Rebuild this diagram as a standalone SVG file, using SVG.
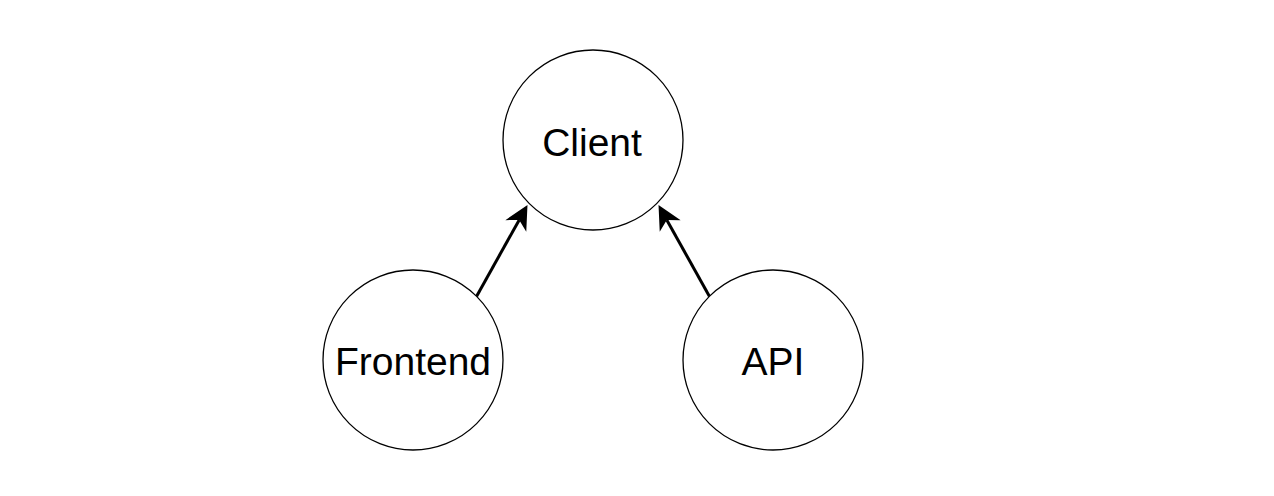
<svg xmlns="http://www.w3.org/2000/svg" width="1274" height="496" viewBox="0 0 1274 496">
<style>
.node circle{fill:#ffffff;stroke:#000000;stroke-width:1.3}
.node text{font-family:"Liberation Sans",Arial,Helvetica,sans-serif;font-size:39px;fill:#000000;text-anchor:middle}
.edge{fill:none;stroke:#000000;stroke-width:3}
</style>
<defs>
<marker id="arrow" markerUnits="userSpaceOnUse" viewBox="-25 -13 26 26" markerWidth="26" markerHeight="26" refX="-17" refY="0" orient="auto">
<path d="M0,0 L-24,-12 L-17,0 L-24,12 Z" fill="#000000" stroke="none"/>
</marker>
</defs>
<rect x="0" y="0" width="1274" height="496" fill="#ffffff"/>
<g id="connectors">
<line class="edge" x1="476.5" y1="296.5" x2="519.2" y2="219.9" marker-end="url(#arrow)"/>
<line class="edge" x1="709.5" y1="296.5" x2="666.8" y2="219.9" marker-end="url(#arrow)"/>
</g>
<g id="client" class="node">
<circle cx="593" cy="140" r="90"/>
<text x="592" y="155.5">Client</text>
</g>
<g id="frontend" class="node">
<circle cx="413" cy="360" r="90"/>
<text x="413" y="374.5">Frontend</text>
</g>
<g id="api" class="node">
<circle cx="773" cy="360" r="90"/>
<text x="773" y="374.5">API</text>
</g>
</svg>
